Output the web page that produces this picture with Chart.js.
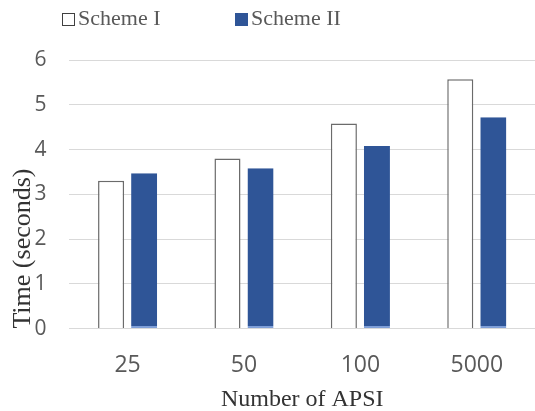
<!DOCTYPE html>
<html>
<head>
<meta charset="utf-8">
<script src="https://cdn.jsdelivr.net/npm/chart.js@4.4.1/dist/chart.umd.min.js"></script>
<style>
  html, body { margin: 0; padding: 0; background: #fff; }
  #wrap { width: 535px; height: 411px; }
</style>
</head>
<body>
<div id="wrap"><canvas id="chart"></canvas></div>
<script>
// data
const categories = ['25', '50', '100', '5000'];
const schemeOne = [3.3, 3.8, 4.58, 5.57];
const schemeTwo = [3.47, 3.58, 4.08, 4.72];
const yTicks = [0, 1, 2, 3, 4, 5, 6];

// legend drawn by hand: the built-in one pads the same amount up/down as between items
const topLegend = {
  id: 'topLegend',
  afterDraw(chart) {
    const c = chart.ctx;
    const xs = [62, 235];
    c.save();
    c.font = '22px "Liberation Serif", serif';
    c.textBaseline = 'middle';
    chart.data.datasets.forEach((ds, i) => {
      const x = xs[i];
      c.fillStyle = ds.backgroundColor;
      c.fillRect(x, 13, 13, 13);
      if (i === 0) {
        c.strokeStyle = '#404040';
        c.lineWidth = 1;
        c.strokeRect(x + 0.5, 13.5, 12, 12);
      }
      c.fillStyle = '#595959';
      c.fillText(ds.label, x + 16, 19);
    });
    c.restore();
  }
};

const ctx = document.getElementById('chart').getContext('2d');

new Chart(ctx, {
  type: 'bar',
  data: {
    labels: categories,
    datasets: [
      {
        label: 'Scheme I',
        data: schemeOne,
        backgroundColor: '#ffffff',
        borderColor: '#6b6b6b',
        borderWidth: 1.5,
        borderSkipped: 'bottom',
      },
      {
        label: 'Scheme II',
        data: schemeTwo,
        backgroundColor: '#2f5597',
        borderColor: '#7f9fd8',
        borderWidth: { top: 0, left: 0, right: 0, bottom: 2 },
        borderSkipped: false,
      },
    ],
  },
  plugins: [topLegend],
  options: {
    responsive: true,
    maintainAspectRatio: false,
    animation: false,
    categoryPercentage: 0.568,
    barPercentage: 0.788,
    layout: { padding: { left: 0, right: 0, top: 60, bottom: 0 } },
    plugins: {
      tooltip: { enabled: false },
      legend: { display: false },
    },
    scales: {
      x: {
        grid: { display: false },
        border: { display: false },
        ticks: {
          color: '#595959',
          padding: 15,
          font: { family: '"Open Sans", sans-serif', size: 23 },
        },
        title: {
          display: true,
          text: 'Number of APSI',
          color: '#333333',
          padding: { top: -9, bottom: -3 },
          font: { family: '"Liberation Serif", serif', size: 24 },
        },
      },
      y: {
        min: 0,
        max: 6,
        afterBuildTicks: (axis) => { axis.ticks = yTicks.map(v => ({ value: v })); },
        grid: { color: '#d9d9d9', drawTicks: false },
        border: { display: false },
        ticks: {
          color: '#595959',
          padding: 23,
          font: { family: '"Open Sans", sans-serif', size: 21 },
        },
        title: {
          display: true,
          text: 'Time (seconds)',
          align: 'start',
          color: '#333333',
          padding: { top: 8, bottom: -27.8 },
          font: { family: '"Liberation Serif", serif', size: 26 },
        },
      },
    },
  },
});
</script>
</body>
</html>
